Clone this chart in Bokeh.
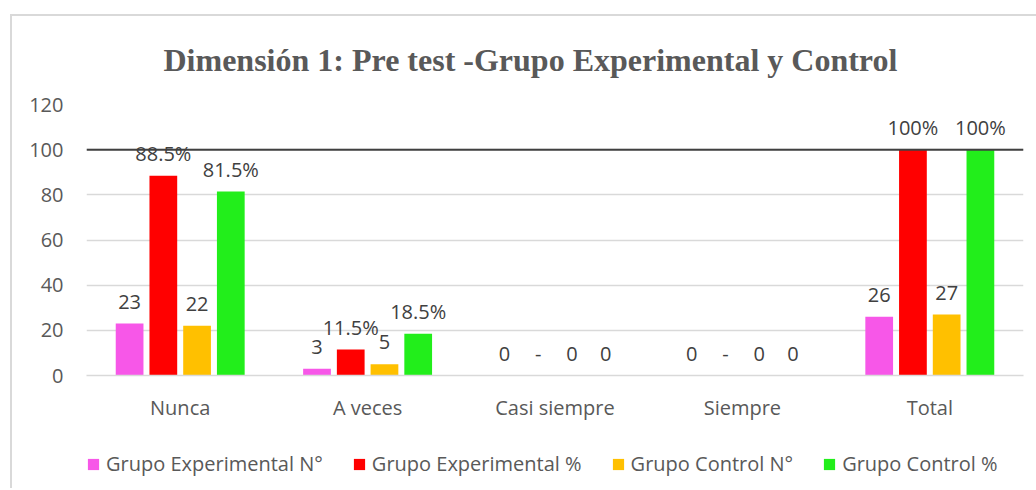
from bokeh.plotting import figure
from bokeh.layouts import column
from bokeh.models import ColumnDataSource, FactorRange, Range1d, LabelSet, Label, Legend, LegendItem, Span, SingleIntervalTicker
from bokeh.core.properties import value
from bokeh.transform import dodge
from bokeh.embed import file_html
from bokeh.resources import INLINE

categories = ["Nunca", "A veces", "Casi siempre", "Siempre", "Total"]
exp_n = [23, 3, 0, 0, 26]
exp_pct = [88.5, 11.5, 0, 0, 100]
ctl_n = [22, 5, 0, 0, 27]
ctl_pct = [81.5, 18.5, 0, 0, 100]
exp_n_lbl = ["23", "3", "0", "0", "26"]
exp_pct_lbl = ["88.5%", "11.5%", "-", "-", "100%"]
ctl_n_lbl = ["22", "5", "0", "0", "27"]
ctl_pct_lbl = ["81.5%", "18.5%", "0", "0", "100%"]
series_names = ["Grupo Experimental N°", "Grupo Experimental %", "Grupo Control N°", "Grupo Control %"]
colors = ["#F757E8", "#FF0000", "#FFC000", "#22EE1B"]
title_text = "Dimensión 1: Pre test -Grupo Experimental y Control"

src = ColumnDataSource(dict(cat=categories, en=exp_n, ep=exp_pct, cn=ctl_n, cp=ctl_pct,
                            enl=exp_n_lbl, epl=exp_pct_lbl, cnl=ctl_n_lbl, cpl=ctl_pct_lbl))

W = 1024

# title strip
tf = figure(width=W, height=70, output_backend="svg", toolbar_location=None,
            x_axis_type=None, y_axis_type=None, x_range=Range1d(0, 1), y_range=Range1d(0, 1),
            min_border_left=0, min_border_right=0, min_border_top=0, min_border_bottom=0)
tf.outline_line_color = None
tf.grid.grid_line_color = None
tf.add_layout(Label(x=77, y=27, x_units="screen", y_units="screen", text=title_text,
                    text_font="Liberation Serif", text_font_style="bold", text_font_size="32px",
                    text_color="#595959", text_align="left", text_baseline="alphabetic"))

p = figure(x_range=FactorRange(*categories), y_range=Range1d(0, 120),
           width=W, height=354, output_backend="svg", toolbar_location=None,
           min_border_left=74, min_border_right=13, min_border_top=18, min_border_bottom=65)

offsets = [-0.27, -0.09, 0.09, 0.27]
fields = ["en", "ep", "cn", "cp"]
lbls = ["enl", "epl", "cnl", "cpl"]
for off, f, l, c in zip(offsets, fields, lbls, colors):
    p.vbar(x=dodge("cat", off, range=p.x_range), top=f, width=0.148, source=src,
           fill_color=c, line_color=None)
    ls = LabelSet(x=dodge("cat", off, range=p.x_range), y=f, text=l, source=src,
                  text_align="center", text_baseline="middle", y_offset=22,
                  text_font=value("Open Sans"), text_font_size="20px", text_color="#404040")
    p.add_layout(ls)

p.yaxis.ticker = SingleIntervalTicker(interval=20)
p.yaxis.axis_line_color = None
p.yaxis.major_tick_line_color = None
p.yaxis.minor_tick_line_color = None
p.yaxis.major_label_standoff = 17
p.yaxis.major_label_text_font = "Open Sans"
p.yaxis.major_label_text_font_size = "20px"
p.yaxis.major_label_text_color = "#595959"

p.xaxis.axis_line_color = "#d9d9d9"
p.xaxis.axis_line_width = 1.5
p.xaxis.major_tick_line_color = None
p.xaxis.minor_tick_line_color = None
p.xaxis.major_label_standoff = 12
p.xaxis.major_label_text_font = "Open Sans"
p.xaxis.major_label_text_font_size = "20px"
p.xaxis.major_label_text_color = "#595959"

p.xgrid.grid_line_color = None
p.ygrid.grid_line_color = "#d9d9d9"
p.ygrid.grid_line_width = 1.5
p.outline_line_color = None

p.add_layout(Span(location=100, dimension="width", line_color="#404040", line_width=2))

# legend strip (its y range lies far above the bars, so only the legend shows)
lf = figure(width=W, height=48, output_backend="svg", toolbar_location=None,
            x_axis_type=None, y_axis_type=None, x_range=p.x_range, y_range=Range1d(1000, 1001),
            min_border_left=0, min_border_right=0, min_border_top=0, min_border_bottom=0)
lf.outline_line_color = None
lf.grid.grid_line_color = None
items = []
for off, f, c, name in zip(offsets, fields, colors, series_names):
    r = lf.vbar(x=dodge("cat", off, range=p.x_range), top=f, bottom=0, width=0.148, source=src,
                fill_color=c, line_color=None)
    items.append(LegendItem(label=name, renderers=[r]))
legend = Legend(items=items, orientation="horizontal", location=(0, 11),
                glyph_width=14, glyph_height=14, label_standoff=6, spacing=29,
                label_text_font="Open Sans", label_text_font_size="20px",
                label_text_color="#595959", border_line_color=None,
                background_fill_alpha=0, padding=0, margin=0)
lf.add_layout(legend)

layout = column(tf, p, lf, spacing=0,
                styles={"border-left": "2px solid #d9d9d9", "border-top": "2px solid #d9d9d9",
                        "margin-left": "10px", "margin-top": "14px"})

open("out.html", "w").write(file_html(layout, INLINE))
